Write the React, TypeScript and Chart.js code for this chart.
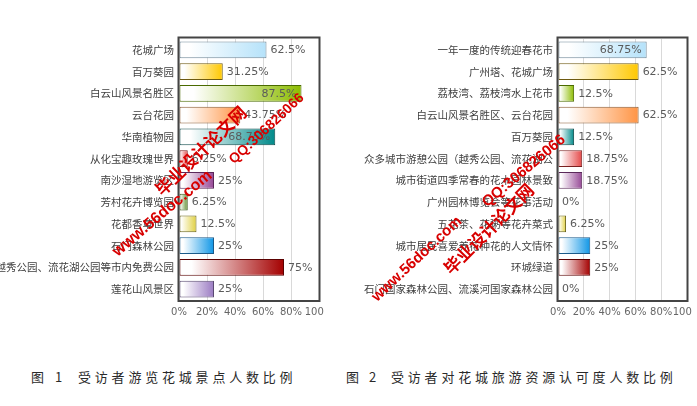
import React, { useEffect, useRef } from 'react';
import { Chart, registerables } from 'chart.js';

Chart.register(...registerables);

// ---------- data ----------
const leftCategories = [
  '花城广场',
  '百万葵园',
  '白云山风景名胜区',
  '云台花园',
  '华南植物园',
  '从化宝趣玫瑰世界',
  '南沙湿地游览区',
  '芳村花卉博览园',
  '花都香草世界',
  '石门森林公园',
  '越秀公园、流花湖公园等市内免费公园',
  '莲花山风景区',
];
const leftValues = [62.5, 31.25, 87.5, 43.75, 68.75, 6.25, 25, 6.25, 12.5, 25, 75, 25];

const rightCategories = [
  '一年一度的传统迎春花市',
  '广州塔、花城广场',
  '荔枝湾、荔枝湾水上花市',
  '白云山风景名胜区、云台花园',
  '百万葵园',
  '众多城市游憩公园（越秀公园、流花湖公',
  '城市街道四季常春的花木园林景致',
  '广州园林博览会等花事活动',
  '五花茶、花粥等花卉菜式',
  '城市居民喜爱养花种花的人文情怀',
  '环城绿道',
  '石门国家森林公园、流溪河国家森林公园',
];
const rightValues = [68.75, 62.5, 12.5, 62.5, 12.5, 18.75, 18.75, 0, 6.25, 25, 25, 0];

const xTickValues = [0, 20, 40, 60, 80, 100];

const caption1Fig = '图';
const caption1Num = '1';
const caption1Text = '受访者游览花城景点人数比例';
const caption2Fig = '图';
const caption2Num = '2';
const caption2Text = '受访者对花城旅游资源认可度人数比例';

const stampSite = 'www.56doc.com';
const stampName = '毕业设计论文网';
const stampQQ = 'QQ:306826066';

// ---------- styles ----------
const barEndColors = [
  '#b5e2fa', '#ffc800', '#8cbc00', '#ff9444', '#008a8a', '#e44848',
  '#964896', '#5e8e2e', '#e0d040', '#0f96e6', '#a40000', '#9a7ac2',
];
const barBorderColors = [
  '#6f8797', '#6e5a10', '#4a6a00', '#8a5a30', '#0c4a4a', '#7a2020',
  '#5a285a', '#3a5a1a', '#6a6418', '#1a5a8a', '#5a0000', '#5a4a72',
];

function gradientBg(ctx: any) {
  const i = ctx.dataIndex;
  const chart = ctx.chart;
  const area = chart.chartArea;
  const xs = chart.scales && chart.scales.x;
  if (!area || !xs || ctx.type !== 'data') return barEndColors[i];
  const v = ctx.raw as number;
  const x0 = xs.getPixelForValue(0);
  const x1 = xs.getPixelForValue(v);
  if (x1 - x0 < 1) return barEndColors[i];
  const g = chart.ctx.createLinearGradient(x0, 0, x1, 0);
  g.addColorStop(0, '#ffffff');
  g.addColorStop(0.12, '#ffffff');
  g.addColorStop(1, barEndColors[i]);
  return g;
}

const valueLabelPlugin = {
  id: 'valueLabels',
  afterDatasetsDraw(chart: any) {
    const ctx = chart.ctx;
    const area = chart.chartArea;
    const meta = chart.getDatasetMeta(0);
    const values = chart.data.datasets[0].data as number[];
    ctx.save();
    ctx.font = '11px "DejaVu Sans", Verdana, sans-serif';
    ctx.fillStyle = '#5a5a5a';
    ctx.textBaseline = 'middle';
    meta.data.forEach((bar: any, i: number) => {
      const text = String(values[i]) + '%';
      const w = ctx.measureText(text).width;
      const endX = bar.x;
      if (endX + 4 + w <= area.right) {
        ctx.textAlign = 'left';
        ctx.fillText(text, endX + 4, bar.y + 0.5);
      } else {
        ctx.textAlign = 'right';
        ctx.fillText(text, endX - 5, bar.y + 0.5);
      }
    });
    ctx.restore();
  },
};

const frameBorderPlugin = {
  id: 'frameBorder',
  afterDraw(chart: any) {
    const ctx = chart.ctx;
    const a = chart.chartArea;
    ctx.save();
    ctx.strokeStyle = '#444444';
    ctx.lineWidth = 2;
    ctx.strokeRect(a.left - 0.5, a.top - 1.5, a.right - a.left + 1, a.bottom - a.top + 2.5);
    ctx.restore();
  },
};

function makeChart(canvas: HTMLCanvasElement, labels: string[], values: number[], yWidth: number) {
  return new Chart(canvas, {
    type: 'bar',
    data: {
      labels,
      datasets: [
        {
          data: values,
          backgroundColor: gradientBg as any,
          borderColor: (c: any) => barBorderColors[c.dataIndex],
          borderWidth: 1,
          borderSkipped: false,
          barPercentage: 0.78,
          categoryPercentage: 1,
        },
      ],
    },
    options: {
      indexAxis: 'y',
      responsive: false,
      maintainAspectRatio: false,
      animation: false,
      events: [],
      layout: { padding: { top: 39, right: 5, bottom: 0, left: 0 } },
      plugins: { legend: { display: false }, tooltip: { enabled: false } },
      scales: {
        x: {
          min: 0,
          max: 100,
          afterBuildTicks: (s: any) => {
            s.ticks = xTickValues.map((v) => ({ value: v }));
          },
          afterFit: (s: any) => {
            s.height = 30;
            s.paddingLeft = 0;
            s.paddingRight = 0;
          },
          ticks: {
            callback: (v: any) => v + '%',
            color: '#666666',
            font: { family: '"DejaVu Sans", Verdana, sans-serif', size: 10 },
            padding: 6,
            maxRotation: 0,
            autoSkip: false,
          },
          grid: { color: '#d9d9d9', lineWidth: 1, drawTicks: false },
          border: { display: false },
        },
        y: {
          afterFit: (s: any) => {
            s.width = yWidth;
            s.paddingTop = 0;
            s.paddingBottom = 0;
          },
          ticks: {
            color: '#404040',
            font: { family: '"Noto Sans CJK SC", sans-serif', size: 10.5 },
            padding: 5,
            autoSkip: false,
          },
          grid: { display: false, drawTicks: false },
          border: { display: false },
        },
      },
    },
    plugins: [valueLabelPlugin, frameBorderPlugin],
  } as any);
}

function BarPanel(props: { left: number; width: number; labels: string[]; values: number[]; yWidth: number }) {
  const ref = useRef<HTMLCanvasElement | null>(null);
  useEffect(() => {
    if (!ref.current) return;
    const chart = makeChart(ref.current, props.labels, props.values, props.yWidth);
    return () => chart.destroy();
  }, []);
  return (
    <div style={{ position: 'absolute', left: props.left, top: 0, width: props.width, height: 330 }}>
      <canvas ref={ref} width={props.width} height={330} style={{ width: props.width, height: 330, display: 'block' }} />
    </div>
  );
}

const captionFont: React.CSSProperties = {
  position: 'absolute',
  top: 369,
  fontFamily: '"Noto Sans CJK SC", sans-serif',
  fontSize: 13,
  lineHeight: '16px',
  color: '#2a2a2a',
  whiteSpace: 'nowrap',
};

function Stamp(props: { text: string; cx: number; cy: number; size: number; angle: number; cjk?: boolean }) {
  return (
    <div
      style={{
        position: 'absolute',
        left: props.cx,
        top: props.cy,
        transform: `translate(-50%, -50%) rotate(${props.angle}deg)`,
        color: '#d80000',
        fontWeight: 'bold',
        fontSize: props.size,
        lineHeight: 1,
        whiteSpace: 'nowrap',
        fontFamily: props.cjk ? '"Noto Sans CJK SC", sans-serif' : '"Liberation Sans", Arial, sans-serif',
        pointerEvents: 'none',
      }}
    >
      {props.text}
    </div>
  );
}

export default function App() {
  return (
    <div style={{ position: 'absolute', left: 0, top: 0, width: 697, height: 406, background: '#ffffff', overflow: 'hidden' }}>
      <BarPanel left={0} width={324} labels={leftCategories} values={leftValues} yWidth={179} />
      <BarPanel left={340} width={352} labels={rightCategories} values={rightValues} yWidth={218} />

      <div style={{ ...captionFont, left: 31 }}>{caption1Fig}</div>
      <div style={{ ...captionFont, left: 55 }}>{caption1Num}</div>
      <div style={{ ...captionFont, left: 78, letterSpacing: '3.8px' }}>{caption1Text}</div>
      <div style={{ ...captionFont, left: 346 }}>{caption2Fig}</div>
      <div style={{ ...captionFont, left: 369 }}>{caption2Num}</div>
      <div style={{ ...captionFont, left: 391, letterSpacing: '3.8px' }}>{caption2Text}</div>

      <Stamp text={stampSite} cx={162} cy={213} size={16} angle={-40} />
      <Stamp text={stampName} cx={200} cy={150} size={17} angle={-44} cjk />
      <Stamp text={stampQQ} cx={266} cy={128} size={14} angle={-43} />

      <Stamp text={stampSite} cx={416} cy={258} size={15} angle={-43} />
      <Stamp text={stampName} cx={488} cy={228} size={17} angle={-45} cjk />
      <Stamp text={stampQQ} cx={523} cy={170} size={15} angle={-40} />
    </div>
  );
}
